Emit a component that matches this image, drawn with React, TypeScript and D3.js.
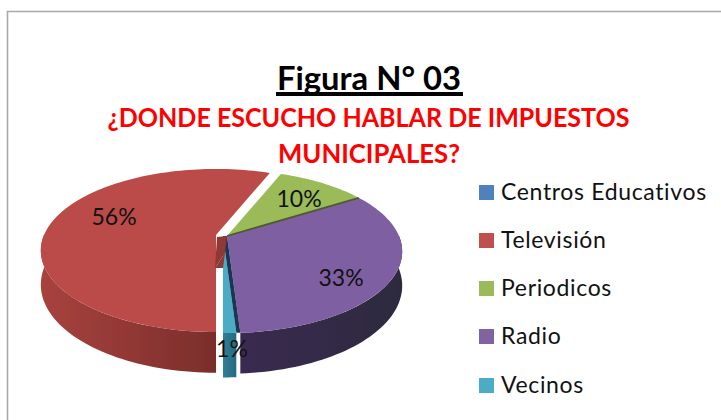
import React from "react";
import * as d3 from "d3";

const categories = ["Centros Educativos", "Televisión", "Periodicos", "Radio", "Vecinos"];
const values = [0, 56, 10, 33, 1];
const topColors = ["#4f81bd", "#bb4c48", "#9bbb59", "#7e60a2", "#4bacc6"];
const legendColors = ["#4f81bd", "#c0504d", "#9bbb59", "#8064a2", "#4bacc6"];
const wallFrom = ["#3a5f8a", "#a8423e", "#6f8a3c", "#3b2c50", "#2f7f96"];
const wallTo = ["#3a5f8a", "#7a2e2b", "#6f8a3c", "#2c2a3e", "#276a80"];

const offsets = [[0, 0], [-11, -1], [0, 0], [0, 0], [-4, 0]];
const wallDepth = [33, 33, 33, 33, 36];
const labelPos = [null, [114, 225], [299, 207], [341, 286], [232, 357]];
const legendY = [185, 233, 281, 329, 378];

const AX = 227, AY = 236, R = 172, TILT = 78.6, K = 0.19;

function project(theta: number, off: number[], depth = 0): [number, number] {
  const u = Math.sin(theta);
  const v = -Math.cos(theta);
  const s = 1 / (1 - K * v);
  return [
    AX + off[0] + R * u * s,
    AY + off[1] + TILT * v * s + depth * s,
  ];
}

const line = d3.line();
const pie = d3.pie<number>().sort(null).startAngle(Math.PI).endAngle(3 * Math.PI);

function samples(a0: number, a1: number) {
  const n = Math.max(2, Math.ceil((a1 - a0) / 0.03));
  return d3.range(n + 1).map((i) => a0 + ((a1 - a0) * i) / n);
}

export default function App() {
  const arcs = pie(values);
  const font = "Lato, Carlito, Calibri, sans-serif";

  const wall = (i: number) => {
    const a = arcs[i];
    const shift = a.startAngle >= 2 * Math.PI ? 2 * Math.PI : 0;
    const a0 = Math.max(a.startAngle - shift, Math.PI / 2);
    const a1 = Math.min(a.endAngle - shift, (3 * Math.PI) / 2);
    if (a1 <= a0) return null;
    const angs = samples(a0, a1);
    const pts = [
      ...angs.map((t) => project(t, offsets[i])),
      ...angs.slice().reverse().map((t) => project(t, offsets[i], wallDepth[i])),
    ];
    return <path key={i} d={line(pts as [number, number][]) + "Z"} fill={`url(#wall${i})`} />;
  };

  const top = (i: number) => {
    const a = arcs[i];
    if (a.endAngle - a.startAngle === 0) return null;
    const apex: [number, number] = [AX + offsets[i][0], AY + offsets[i][1]];
    const pts = [apex, ...samples(a.startAngle, a.endAngle).map((t) => project(t, offsets[i]))];
    return <path key={i} d={line(pts) + "Z"} fill={topColors[i]} />;
  };

  const radio = arcs[3];
  const vec = arcs[4];
  const pApex: [number, number] = [AX, AY];
  const tApex: [number, number] = [AX + offsets[4][0], AY];
  const navy = [tApex, project(vec.startAngle, offsets[4]), project(radio.endAngle, offsets[3]), pApex];
  const rApex: [number, number] = [AX + offsets[1][0], AY + offsets[1][1]];
  const innerWall: [number, number][] = [
    [rApex[0] + 1, rApex[1] + 2],
    [rApex[0] + 11, rApex[1] + 1],
    [rApex[0] + 9, rApex[1] + 18],
    [rApex[0] - 1, rApex[1] + 33],
  ];
  const gap: [number, number][] = [
    [rApex[0] - 1, rApex[1] + 33],
    [rApex[0] + 9, rApex[1] + 18],
    [tApex[0], rApex[1] + 33],
  ];
  const seam = [pApex, project(radio.startAngle, offsets[3])];

  return (
    <svg
      width={721}
      height={420}
      style={{ position: "absolute", left: 0, top: 0, background: "#fff" }}
    >
      <defs>
        {categories.map((_, i) => (
          <linearGradient key={i} id={`wall${i}`} x1="0" x2="1" y1="0" y2="0">
            <stop offset="0" stopColor={wallFrom[i]} />
            <stop offset="1" stopColor={wallTo[i]} />
          </linearGradient>
        ))}
        <filter id="soft" x="-5%" y="-5%" width="110%" height="110%">
          <feGaussianBlur stdDeviation={0.6} />
        </filter>
      </defs>

      <path d="M7.5,420V11.5H721" fill="none" stroke="#a9a9a9" strokeWidth={1.6} />

      <text x={369} y={90} textAnchor="middle" fontFamily={font} fontWeight={700} fontSize={32}
        textLength={184} lengthAdjust="spacingAndGlyphs" fill="#000">Figura N° 03</text>
      <rect x={276} y={92} width={187} height={4} fill="#000" />
      <text x={368.5} y={127} textAnchor="middle" fontFamily={font} fontWeight={700} fontSize={26.5}
        textLength={522} lengthAdjust="spacingAndGlyphs" fill="#ff0000">¿DONDE ESCUCHO HABLAR DE IMPUESTOS</text>
      <text x={369} y={163} textAnchor="middle" fontFamily={font} fontWeight={700} fontSize={26.5}
        textLength={182} lengthAdjust="spacingAndGlyphs" fill="#ff0000">MUNICIPALES?</text>

      <g filter="url(#soft)">
        {[1, 3, 4].map(wall)}
        {[1, 2, 3, 4].map(top)}
        <path d={line(navy as [number, number][]) + "Z"} fill="#1f3556" />
        <path d={line(gap) + "Z"} fill="#8f3835" />
        <path d={line(innerWall) + "Z"} fill="#8f3835" />
        <path d={line(seam as [number, number][]) ?? ""} stroke="#4f5a30" strokeWidth={1.8} fill="none" />
      </g>

      {values.map((v, i) =>
        labelPos[i] ? (
          <text key={i} x={labelPos[i]![0]} y={labelPos[i]![1]} textAnchor="middle" fontFamily={font}
            fontSize={23} fill="#111">{v}%</text>
        ) : null
      )}

      {categories.map((c, i) => (
        <g key={c}>
          <rect x={479} y={legendY[i]} width={15} height={15} fill={legendColors[i]} />
          <text x={501} y={legendY[i] + 15} fontFamily={font} fontSize={23} letterSpacing={0.65} fill="#111">{c}</text>
        </g>
      ))}
    </svg>
  );
}
